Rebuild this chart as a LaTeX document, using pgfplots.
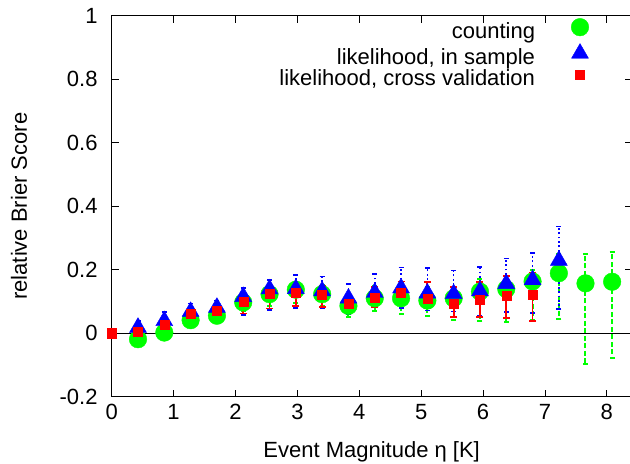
\documentclass[border=0pt]{standalone}
\usepackage{pgfplots}
\pgfplotsset{compat=1.18}
\usepackage{pgfplotstable}
\usepackage{fontspec}
\setmainfont{Liberation Sans}

\definecolor{gpgreen}{RGB}{0,255,0}
\definecolor{gpblue}{RGB}{0,0,255}
\definecolor{gpred}{RGB}{255,0,0}

\pgfplotstableread{
x y ep em
0.425 -0.019 0.012 0.012
0.850 0.002 0.012 0.012
1.275 0.041 0.018 0.016
1.700 0.055 0.020 0.020
2.125 0.097 0.023 0.027
2.550 0.123 0.027 0.038
2.975 0.137 0.023 0.042
3.400 0.123 0.030 0.038
3.825 0.086 0.034 0.034
4.250 0.110 0.038 0.040
4.675 0.110 0.050 0.048
5.100 0.103 0.043 0.049
5.525 0.110 0.034 0.067
5.950 0.131 0.039 0.092
6.375 0.139 0.040 0.103
6.800 0.163 0.037 0.123
7.225 0.189 0.060 0.145
7.655 0.157 0.092 0.253
8.085 0.162 0.093 0.239
}\countingtab

\pgfplotstableread{
x y ep em
0.425 0.018 0.021 0.018
0.850 0.039 0.027 0.019
1.275 0.068 0.026 0.033
1.700 0.081 0.022 0.043
2.125 0.115 0.027 0.057
2.550 0.139 0.029 0.065
2.975 0.140 0.043 0.060
3.400 0.133 0.046 0.055
3.825 0.110 0.045 0.050
4.250 0.128 0.058 0.045
4.675 0.142 0.065 0.062
5.100 0.126 0.079 0.054
5.525 0.124 0.074 0.056
5.950 0.133 0.076 0.078
6.375 0.156 0.079 0.090
6.800 0.168 0.085 0.104
7.225 0.229 0.107 0.152
}\insampletab

\pgfplotstableread{
x y ep em
0.000 0.000 0.000 0.000
0.425 0.006 0.009 0.009
0.850 0.028 0.012 0.010
1.275 0.060 0.015 0.021
1.700 0.070 0.015 0.023
2.125 0.100 0.020 0.038
2.550 0.123 0.017 0.045
2.975 0.127 0.022 0.041
3.400 0.120 0.029 0.037
3.825 0.094 0.026 0.026
4.250 0.113 0.032 0.030
4.675 0.126 0.037 0.034
5.100 0.110 0.050 0.030
5.525 0.092 0.053 0.042
5.950 0.105 0.056 0.054
6.375 0.117 0.062 0.068
6.800 0.120 0.071 0.081
}\crossvaltab

\begin{document}
\begin{tikzpicture}
\begin{axis}[
  scale only axis, width=519.9bp, height=381bp,
  xmin=0, xmax=8.4, ymin=-0.2, ymax=1,
  xtick={0,1,2,3,4,5,6,7,8},
  xticklabels={0,1,2,3,4,5,6,7,8},
  ytick={-0.2,0,0.2,0.4,0.6,0.8,1},
  yticklabels={-0.2,0,0.2,0.4,0.6,0.8,1},
  tick align=inside, major tick length=7bp,
  axis line style={line width=0.9bp, black},
  every tick/.style={black, line width=0.8bp},
  tick label style={font=\fontsize{22bp}{26bp}\selectfont, inner sep=0pt},
  xticklabel style={yshift=-7bp},
  yticklabel style={xshift=-14bp},
  label style={font=\fontsize{22bp}{26bp}\selectfont},
  xlabel={Event Magnitude η [K]},
  ylabel={relative Brier Score},
  xlabel style={at={(axis description cs:0.5,-0.1451)}, anchor=center},
  ylabel style={at={(axis description cs:-0.1783,0.5)}, anchor=center},
  clip=false,
  legend cell align=right, legend plot pos=right,
  legend style={draw=none, fill=none, inner sep=0pt, outer sep=0pt,
    at={(0.92,0.993)}, anchor=north east,
    font=\fontsize{22bp}{26bp}\selectfont,
    column sep=0pt, row sep=0.4bp,
    nodes={inner sep=0pt, text height=16bp, text depth=5bp}},
  legend image code/.code={\path[draw=none] (0bp,0bp) -- (55bp,0bp); \path[draw=none,#1] plot coordinates {(45bp,5.5bp)};},
]
\addplot[only marks, mark=*, mark size=8.8bp, color=gpgreen,
  error bars/.cd, y dir=both, y explicit,
  error bar style={draw=gpgreen, line width=2bp, dash pattern=on 5bp off 2.5bp},
  error mark options={draw=gpgreen, rotate=90, mark size=2.5bp, line width=2bp, solid}]
  table[x=x, y=y, y error plus=ep, y error minus=em] {\countingtab};
\addlegendentry{counting}

\addplot[only marks, mark=triangle*, mark size=9.8bp, color=gpblue,
  error bars/.cd, y dir=both, y explicit,
  error bar style={draw=gpblue, line width=1.6bp, dash pattern=on 1.8bp off 2.6bp},
  error mark options={draw=gpblue, rotate=90, mark size=2.5bp, line width=1.6bp, solid}]
  table[x=x, y=y, y error plus=ep, y error minus=em] {\insampletab};
\addlegendentry{likelihood, in sample}

\addplot[only marks, mark=square*, mark size=4.5bp, color=gpred,
  error bars/.cd, y dir=both, y explicit,
  error bar style={draw=gpred, line width=1.8bp},
  error mark options={draw=gpred, rotate=90, mark size=3.5bp, line width=1.8bp}]
  table[x=x, y=y, y error plus=ep, y error minus=em] {\crossvaltab};
\addlegendentry{likelihood, cross validation}

\addplot[black, line width=0.8bp, forget plot] coordinates {(0,0) (8.4,0)};
\end{axis}
\pgfresetboundingbox
\path[use as bounding box] ([shift={(-111.7bp,-67.3bp)}]current axis.south west) rectangle ([shift={(-1.6bp,15.7bp)}]current axis.north east);
\end{tikzpicture}
\end{document}
